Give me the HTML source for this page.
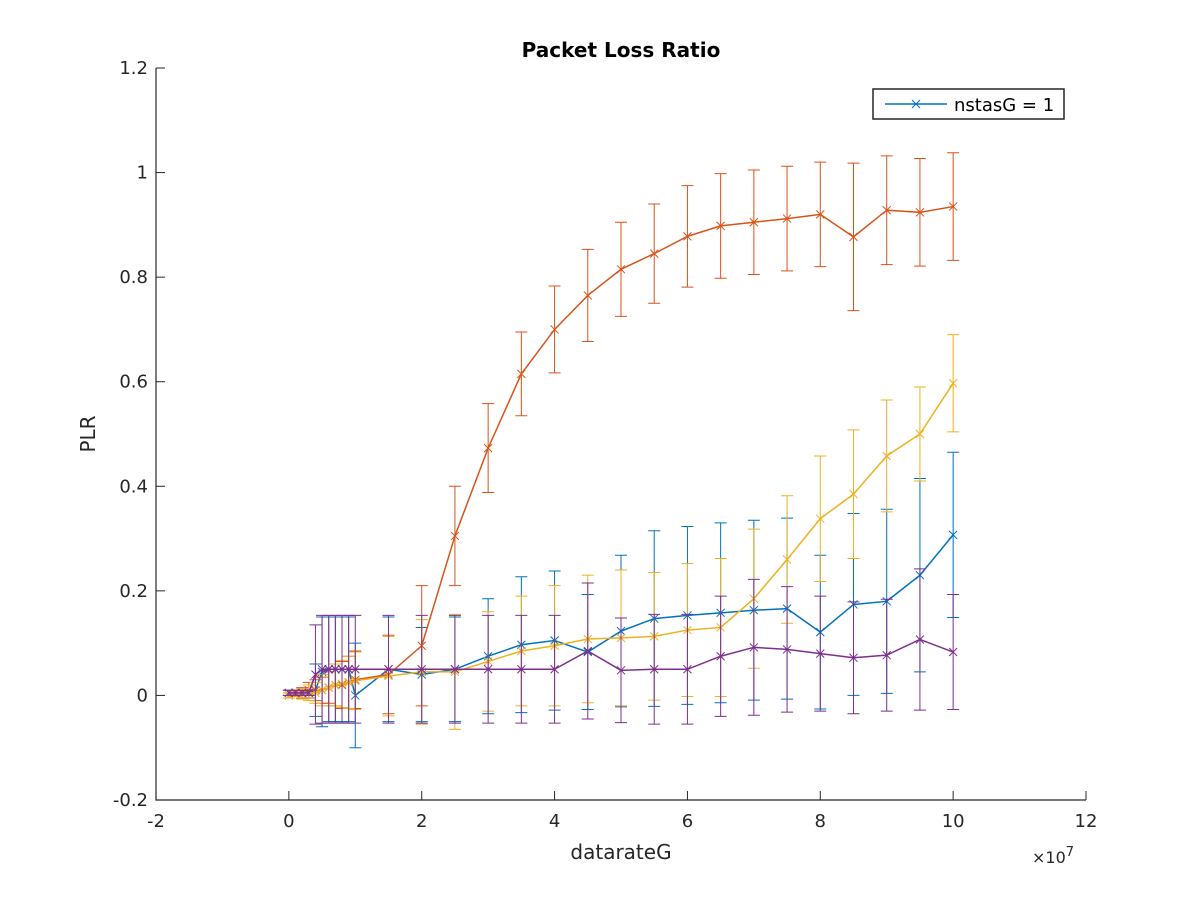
<!DOCTYPE html>
<html><head><meta charset="utf-8"><style>
html,body{margin:0;padding:0;background:#fff;}
svg{display:block;font-family:"DejaVu Sans","Liberation Sans",sans-serif;}
</style></head><body>
<svg id="chart" width="1200" height="900" viewBox="0 0 1200 900">
<rect x="0" y="0" width="1200" height="900" fill="#fff"/>
<g id="plot"></g>
<g id="axes"></g>
<text x="621" y="57" text-anchor="middle" font-size="20" font-weight="bold">Packet Loss Ratio</text>
<text x="621" y="859" text-anchor="middle" font-size="20" fill="#262626">datarateG</text>
<text transform="translate(95,434) rotate(-90)" text-anchor="middle" font-size="20" fill="#262626">PLR</text>
<text x="1032" y="863" font-size="16" fill="#262626">×10<tspan dy="-7" font-size="13">7</tspan></text>
<g>
<rect x="873" y="89" width="191" height="30" fill="#fff" stroke="#262626" stroke-width="1.5"/>
<line x1="885" y1="104" x2="947" y2="104" stroke="#0072BD" stroke-width="1.5"/>
<path d="M912,100 l8,8 M920,100 l-8,8" stroke="#0072BD" stroke-width="1"/>
<text x="954" y="111" font-size="18" fill="#000">nstasG = 1</text>
</g>
</svg>
<script>
const xVals=[0,0.1,0.2,0.3,0.4,0.5,0.6,0.7,0.8,0.9,1.0,1.5,2,2.5,3,3.5,4,4.5,5,5.5,6,6.5,7,7.5,8,8.5,9,9.5,10];
const blueMean=[0.005,0.005,0.005,0.005,0.01,0.045,0.05,0.05,0.05,0.05,0.0,0.05,0.04,0.05,0.075,0.097,0.105,0.083,0.123,0.147,0.153,0.158,0.163,0.166,0.121,0.174,0.18,0.23,0.307];
const blueErr=[0.005,0.005,0.005,0.005,0.05,0.105,0.1,0.1,0.1,0.1,0.1,0.1,0.09,0.1,0.11,0.13,0.133,0.11,0.145,0.168,0.17,0.172,0.172,0.173,0.147,0.174,0.176,0.185,0.158];
const redMean=[0.0,0.005,0.005,0.01,0.01,0.01,0.015,0.02,0.02,0.025,0.03,0.04,0.095,0.305,0.473,0.615,0.70,0.765,0.815,0.845,0.878,0.898,0.905,0.912,0.92,0.877,0.928,0.924,0.935];
const redErr=[0.005,0.005,0.01,0.015,0.02,0.025,0.03,0.04,0.045,0.05,0.055,0.075,0.115,0.095,0.085,0.08,0.083,0.088,0.09,0.095,0.097,0.1,0.1,0.1,0.1,0.141,0.104,0.103,0.103];
const yellowMean=[0.0,0.003,0.003,0.005,0.005,0.01,0.015,0.02,0.022,0.025,0.028,0.037,0.045,0.045,0.065,0.085,0.095,0.108,0.11,0.113,0.125,0.13,0.185,0.26,0.338,0.385,0.458,0.5,0.597];
const yellowErr=[0.005,0.005,0.01,0.015,0.02,0.03,0.035,0.04,0.045,0.05,0.055,0.076,0.1,0.11,0.095,0.105,0.115,0.122,0.13,0.122,0.127,0.132,0.133,0.122,0.12,0.123,0.107,0.09,0.093];
const purpleMean=[0.005,0.005,0.005,0.005,0.04,0.05,0.05,0.05,0.05,0.05,0.05,0.05,0.05,0.05,0.05,0.05,0.05,0.085,0.048,0.05,0.05,0.075,0.092,0.088,0.08,0.072,0.077,0.107,0.083];
const purpleErr=[0.005,0.005,0.005,0.005,0.095,0.103,0.103,0.103,0.103,0.103,0.103,0.103,0.103,0.103,0.103,0.103,0.103,0.13,0.1,0.105,0.105,0.115,0.13,0.12,0.11,0.107,0.107,0.135,0.11];
const xTicks=[-2,0,2,4,6,8,10,12];
const yTicks=[-0.2,0,0.2,0.4,0.6,0.8,1,1.2];
const yTickLabels=["-0.2","0","0.2","0.4","0.6","0.8","1","1.2"];

const L=156,R=1086,T=68,B=800;
const xs=v=>L+(v+2)/14*(R-L);
const ys=v=>B-(v+0.2)/1.4*(B-T);
const NS="http://www.w3.org/2000/svg";
function mk(tag,attrs,parent){const e=document.createElementNS(NS,tag);for(const k in attrs)e.setAttribute(k,attrs[k]);parent.appendChild(e);return e;}
const plot=document.getElementById('plot'),axes=document.getElementById('axes');

const series=[
 {name:'blue',color:'#0072BD',m:blueMean,e:blueErr},
 {name:'red',color:'#D95319',m:redMean,e:redErr},
 {name:'yellow',color:'#EDB120',m:yellowMean,e:yellowErr},
 {name:'purple',color:'#7E2F8E',m:purpleMean,e:purpleErr}
];
series.forEach(s=>{
 const g=mk('g',{},plot);
 
 
 for(let i=0;i<xVals.length;i++){
  const x=xs(xVals[i]),y1=ys(s.m[i]-s.e[i]),y2=ys(s.m[i]+s.e[i]);
  const eb=mk('path',{d:`M${x},${y1}V${y2}M${x-6},${y1}h12M${x-6},${y2}h12`,stroke:s.color,'stroke-width':1,fill:'none'},g);
  
  
 }
 const pts=xVals.map((v,i)=>xs(v)+','+ys(s.m[i])).join(' ');
 const ln=mk('polyline',{points:pts,stroke:s.color,'stroke-width':1.5,fill:'none'},g);
 
 
 for(let i=0;i<xVals.length;i++){
  const x=xs(xVals[i]),y=ys(s.m[i]);
  const mkr=mk('path',{d:`M${x-4},${y-4}l8,8M${x+4},${y-4}l-8,8`,stroke:s.color,'stroke-width':1,fill:'none'},g);
  
  
 }
});

const ax=mk('path',{d:`M${L},${T}V${B}H${R}`,stroke:'#262626','stroke-width':1.2,fill:'none'},axes);


xTicks.forEach(t=>{
 const x=xs(t);
 mk('line',{x1:x,y1:B,x2:x,y2:B-9,stroke:'#262626','stroke-width':1},axes);
 const tx=mk('text',{x:x,y:B+27,'text-anchor':'middle','font-size':18,fill:'#262626'},axes);
 tx.textContent=String(t);
 
 
});
yTicks.forEach((t,i)=>{
 const y=ys(t);
 mk('line',{x1:L,y1:y,x2:L+9,y2:y,stroke:'#262626','stroke-width':1},axes);
 const tx=mk('text',{x:L-8,y:y+6,'text-anchor':'end','font-size':18,fill:'#262626'},axes);
 tx.textContent=yTickLabels[i];
 
 
});
</script>
</body></html>
